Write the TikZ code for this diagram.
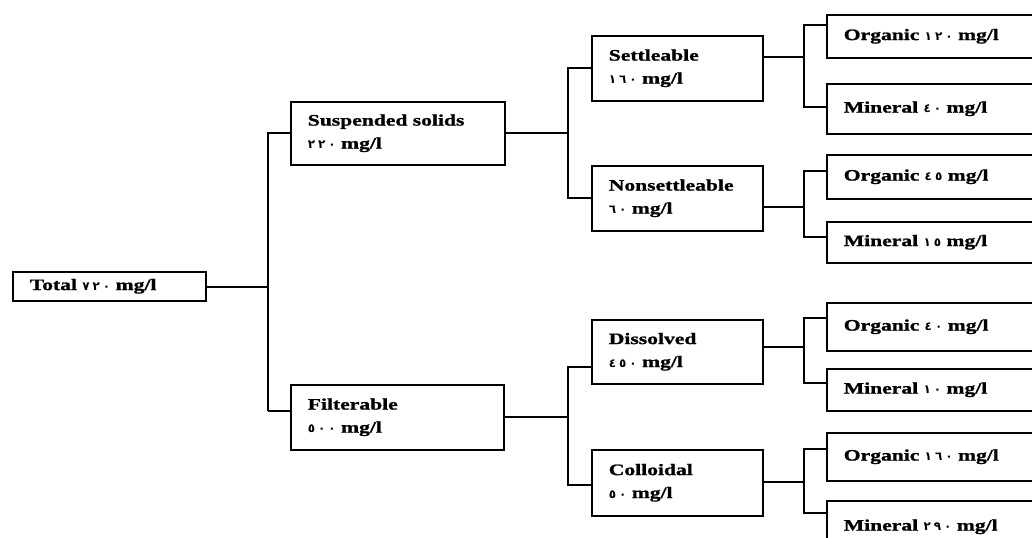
\documentclass[tikz,border=0pt]{standalone}
\usepackage{fontspec}
\setmainfont{Liberation Serif}[FakeStretch=1.35, BoldFeatures={FakeBold=1.2}]
\newfontfamily\dig{DejaVu Sans}[Scale=0.75, LetterSpace=25]
\newcommand{\ad}[1]{{\dig\bfseries #1}}
\begin{document}
\begin{tikzpicture}[x=1bp,y=-1bp,
  box/.style={draw=black, line width=1.6bp, inner sep=0pt, anchor=north west,
    align=left, font=\fontsize{16bp}{23bp}\selectfont\bfseries},
  wire/.style={draw=black, line width=1.3bp},
  trunk/.style={draw=black, line width=2bp}]
\path[use as bounding box] (0,0) rectangle (1032,538);
\clip (0,0) rectangle (1032,538);
% level 0
\node[box, minimum width=193bp, minimum height=29bp, text width=159bp] (total) at (12,271) {Total \ad{٧٢٠} mg/l};
% level 1
\node[box, minimum width=214bp, minimum height=63bp, text width=180bp] (ss) at (290,101) {Suspended solids\\\ad{٢٢٠} mg/l};
\node[box, minimum width=213bp, minimum height=65bp, text width=179bp] (fi) at (290,384) {Filterable\\\ad{٥٠٠} mg/l};
% level 2
\node[box, minimum width=171bp, minimum height=65bp, text width=137bp] (se) at (591,35) {Settleable\\\ad{١٦٠} mg/l};
\node[box, minimum width=171bp, minimum height=65bp, text width=137bp] (ns) at (591,165) {Nonsettleable\\\ad{٦٠} mg/l};
\node[box, minimum width=171bp, minimum height=64bp, text width=137bp] (di) at (591,319) {Dissolved\\\ad{٤٥٠} mg/l};
\node[box, minimum width=171bp, minimum height=66bp, text width=137bp] (co) at (591,449) {Colloidal\\\ad{٥٠} mg/l};
% level 3
\node[box, minimum width=220bp, minimum height=43bp, text width=186bp] (o1) at (826,14) {Organic \ad{١٢٠} mg/l};
\node[box, minimum width=220bp, minimum height=50bp, text width=186bp] (m1) at (826,83) {Mineral \ad{٤٠} mg/l};
\node[box, minimum width=220bp, minimum height=44bp, text width=186bp] (o2) at (826,154) {Organic \ad{٤٥} mg/l};
\node[box, minimum width=220bp, minimum height=41bp, text width=186bp] (m2) at (826,221) {Mineral \ad{١٥} mg/l};
\node[box, minimum width=220bp, minimum height=48bp, text width=186bp] (o3) at (826,302) {Organic \ad{٤٠} mg/l};
\node[box, minimum width=220bp, minimum height=42bp, text width=186bp] (m3) at (826,368) {Mineral \ad{١٠} mg/l};
\node[box, minimum width=220bp, minimum height=48bp, text width=186bp] (o4) at (826,432) {Organic \ad{١٦٠} mg/l};
\node[box, minimum width=220bp, minimum height=52bp, text width=186bp] (m4) at (826,500) {Mineral \ad{٢٩٠} mg/l};
% junction coordinates
\coordinate (j0) at (268,287);
\coordinate (j1) at (568,133);
\coordinate (j2) at (568,417);
\coordinate (k1) at (804,57);
\coordinate (k2) at (804,207);
\coordinate (k3) at (804,347);
\coordinate (k4) at (804,482);
% connectors
\draw[wire] (total.east |- j0) -- (j0);
\draw[trunk] (ss.west |- 0,133) -| (j0 |- 0,411);
\draw[wire] (j0 |- 0,411) -- (fi.west |- 0,411);
\draw[wire] (ss.east |- j1) -- (j1);
\draw[wire] (se.west |- 0,68) -| (j1 |- 0,198) -- (ns.west |- 0,198);
\draw[wire] (fi.east |- j2) -- (j2);
\draw[wire] (di.west |- 0,367) -| (j2 |- 0,485) -- (co.west |- 0,485);
\draw[wire] (se.east |- k1) -- (k1);
\draw[wire] (o1.west |- 0,25) -| (k1 |- 0,107) -- (m1.west |- 0,107);
\draw[wire] (ns.east |- k2) -- (k2);
\draw[wire] (o2.west |- 0,171) -| (k2 |- 0,237) -- (m2.west |- 0,237);
\draw[wire] (di.east |- k3) -- (k3);
\draw[wire] (o3.west |- 0,318) -| (k3 |- 0,383) -- (m3.west |- 0,383);
\draw[wire] (co.east |- k4) -- (k4);
\draw[wire] (o4.west |- 0,449) -| (k4 |- 0,513) -- (m4.west |- 0,513);
\end{tikzpicture}
\end{document}
